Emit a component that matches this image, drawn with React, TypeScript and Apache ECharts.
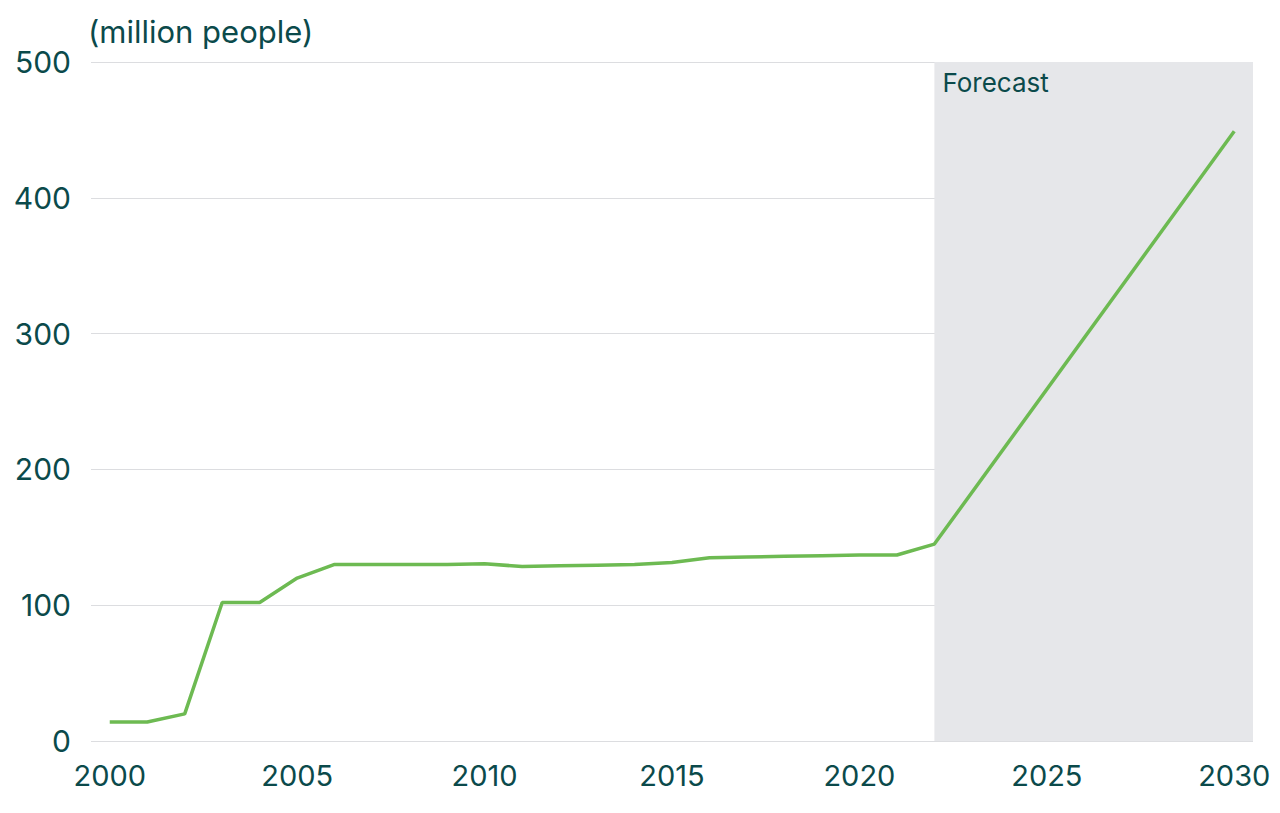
import React, { useEffect, useRef } from "react";
import * as echarts from "echarts";

const years = [2000, 2001, 2002, 2003, 2004, 2005, 2006, 2007, 2008, 2009, 2010, 2011, 2012, 2013, 2014, 2015, 2016, 2017, 2018, 2019, 2020, 2021, 2022, 2030];
const people = [14, 14, 20, 102, 102, 120, 130, 130, 130, 130, 130.5, 128.5, 129, 129.5, 130, 131.5, 135, 135.5, 136, 136.5, 137, 137, 145, 449];
const xTickLabels = [2000, 2005, 2010, 2015, 2020, 2025, 2030];
const forecastStart = 2022;
const unitLabel = "(million people)";
const forecastLabel = "Forecast";

const TEXT = "#0b4a4b";
const FONT = "Inter, 'Noto Sans', sans-serif";

export default function App() {
  const ref = useRef<HTMLDivElement>(null);
  useEffect(() => {
    if (!ref.current) return;
    const chart = echarts.init(ref.current, undefined, { renderer: "svg" });
    chart.setOption({
      animation: false,
      backgroundColor: "#ffffff",
      grid: { left: 91, right: 27, top: 62, bottom: 72, containLabel: false },
      xAxis: {
        type: "value",
        min: 1999.5,
        max: 2030.5,
        axisLine: { show: false },
        axisTick: { show: false },
        splitLine: { show: false },
        axisLabel: {
          customValues: xTickLabels,
          color: TEXT,
          fontSize: 29,
          fontFamily: FONT,
          margin: 20,
          formatter: (v: number) => String(v),
        },
      },
      yAxis: {
        type: "value",
        min: 0,
        max: 500,
        interval: 100,
        axisLine: { show: false },
        axisTick: { show: false },
        splitLine: { show: true, lineStyle: { color: "#dcdde0", width: 1.2 } },
        axisLabel: { color: TEXT, fontSize: 30, fontFamily: FONT, margin: 20 },
      },
      graphic: [
        {
          type: "text",
          left: 88,
          top: 16,
          style: { text: unitLabel, fill: TEXT, fontSize: 31, fontFamily: FONT, letterSpacing: 1.3 },
        },
      ],
      series: [
        {
          type: "line",
          data: years.map((y, i) => [y, people[i]]),
          showSymbol: false,
          lineStyle: { color: "#6dba52", width: 3.5 },
          z: 3,
          markArea: {
            silent: true,
            itemStyle: { color: "#e6e7ea" },
            label: {
              show: true,
              position: "insideTopLeft",
              distance: 8,
              offset: [0, -1],
              color: TEXT,
              fontSize: 26,
              fontFamily: FONT,
            },
            data: [[{ xAxis: forecastStart, name: forecastLabel }, { xAxis: 2030.5 }]],
          },
        },
      ],
    });
    return () => chart.dispose();
  }, []);
  return (
    <div
      ref={ref}
      style={{ position: "fixed", left: 0, top: 0, width: 1280, height: 813 }}
    />
  );
}
